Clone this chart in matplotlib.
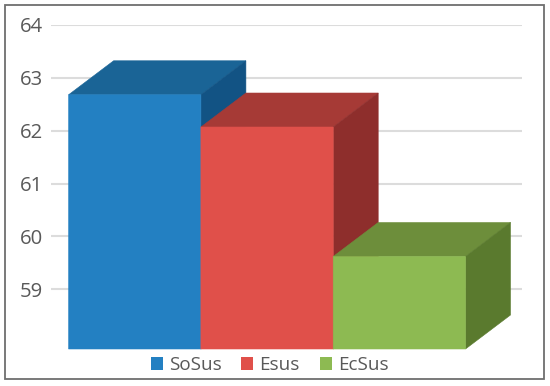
import matplotlib
matplotlib.use("Agg")
import matplotlib.pyplot as plt
from matplotlib.patches import Polygon, Rectangle, Patch

categories = ["SoSus", "Esus", "EcSus"]
values = [62.68, 62.07, 59.62]
base = 57.87
yticks = [59, 60, 61, 62, 63, 64]
front_colors = ["#2380C2", "#E0504A", "#8DBA52"]
top_colors = ["#1A6496", "#A63A36", "#6D8E3B"]
side_colors = ["#125384", "#8E2E2C", "#5A7A2E"]

W, H = 550, 386
plt.rcParams["font.family"] = ["Open Sans", "DejaVu Sans"]
fig = plt.figure(figsize=(W / 100, H / 100), dpi=100, facecolor="white")

# chart frame
fig.add_artist(Rectangle((4.8 / W, 1 - 379 / H), (544 - 4.8) / W, (379 - 4.5) / H,
                         transform=fig.transFigure, fill=False,
                         edgecolor="#6E6E6E", linewidth=1.3))

ax_l, ax_r, ax_t, ax_b = 51, 522, 25, 349
ax = fig.add_axes([ax_l / W, 1 - ax_b / H, (ax_r - ax_l) / W, (ax_b - ax_t) / H])
bar_px = 132.3
ax.set_xlim((ax_l - 68.6) / bar_px, (ax_r - 68.6) / bar_px)
ax.set_ylim(base, 64)
ax.patch.set_visible(False)
for s in ax.spines.values():
    s.set_visible(False)

ax.set_yticks(yticks)
ax.set_yticklabels([str(t) for t in yticks], fontsize=14.6, color="#595959")
ax.tick_params(axis="y", length=0, pad=6)
ax.set_xticks([])
ax.yaxis.grid(True, color="#DCDCDC", linewidth=1.5, zorder=0)
ax.set_axisbelow(True)

dx = 45 / bar_px
dy = 34 / ((ax_b - ax_t) / (64 - base))
seam = 0.4

for i, v in enumerate(values):
    z = 3 + i
    ax.bar(i, v - base, bottom=base, width=1, align="edge", color=front_colors[i],
           edgecolor=front_colors[i], linewidth=seam, zorder=z + 0.2, clip_on=False, snap=False)
    ax.add_patch(Polygon([(i, v), (i + 1, v), (i + 1 + dx, v + dy), (i + dx, v + dy)],
                         closed=True, facecolor=top_colors[i], edgecolor=top_colors[i],
                         linewidth=seam, zorder=z, clip_on=False, snap=False))
    ax.add_patch(Polygon([(i + 1, base), (i + 1, v), (i + 1 + dx, v + dy), (i + 1 + dx, base + dy)],
                         closed=True, facecolor=side_colors[i], edgecolor=side_colors[i],
                         linewidth=seam, zorder=z + 0.1, clip_on=False, snap=False))

handles = [Patch(facecolor=c, label=n) for c, n in zip(front_colors, categories)]
fig.legend(handles=handles, loc="center", bbox_to_anchor=(269.5 / W, 1 - 365 / H), ncol=3,
           frameon=False, fontsize=13.6, labelcolor="#595959", handlelength=0.64, handleheight=0.66,
           handletextpad=0.32, columnspacing=1.05, borderpad=0, borderaxespad=0)

fig.savefig("out.png", dpi=100, facecolor="white")
